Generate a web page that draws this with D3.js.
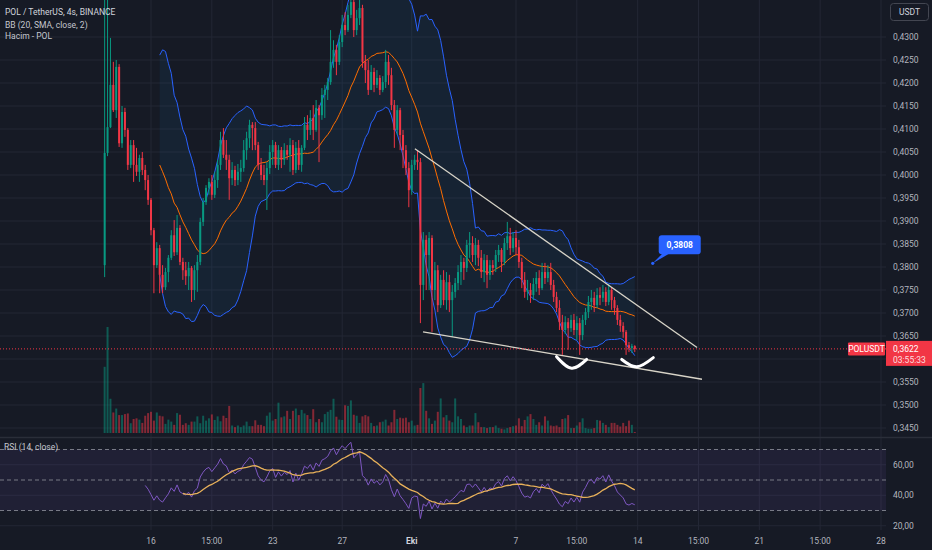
<!DOCTYPE html>
<html>
<head>
<meta charset="utf-8">
<script src="https://cdn.jsdelivr.net/npm/d3@7"></script>
<style>
html, body { margin: 0; padding: 0; background: #161a25; }
svg { display: block; font-family: Roboto, "Noto Sans", sans-serif; }
</style>
</head>
<body>
<svg id="chart" width="932" height="550"></svg>
<script>
// POL/USDT 4h bars, first bar 13 Sep 11:00
var startTime = Date.UTC(2024, 8, 13, 11);
var firstOpen = 0.3804;

var closes = [
  .4048,.4104,.4196,.4141,.4235,.4069,.4137,.4098,.4022,.4065,
  .4022,.4007,.4037,.4011,.3989,.3946,.3880,.3804,.3841,.3783,
  .3756,.3789,.3820,.3869,.3832,.3885,.3811,.3793,.3780,.3798,
  .3750,.3793,.3811,.3898,.3941,.3972,.3985,.3957,.3989,.4022,
  .4076,.4044,.4033,.3993,.4011,.3989,.4007,.4015,.4054,.4080,
  .4109,.4102,.4065,.4022,.4000,.3989,.4015,.4050,.4065,.4022,
  .4054,.4033,.4054,.4044,.4065,.4011,.4059,.4022,.4059,.4109,
  .4098,.4124,.4098,.4146,.4130,.4174,.4185,.4202,.4246,.4272,
  .4246,.4289,.4326,.4315,.4348,.4376,.4315,.4341,.4363,.4246,
  .4228,.4185,.4224,.4196,.4211,.4185,.4202,.4246,.4217,.4152,
  .4098,.4141,.4087,.4054,.4015,.3967,.4022,.4033,.4028,.3761,
  .3859,.3826,.3863,.3750,.3793,.3717,.3772,.3728,.3767,.3728,
  .3746,.3765,.3789,.3811,.3798,.3848,.3852,.3826,.3848,.3820,
  .3789,.3815,.3783,.3804,.3798,.3826,.3837,.3811,.3852,.3867,
  .3841,.3863,.3843,.3811,.3772,.3746,.3750,.3739,.3763,.3776,
  .3754,.3789,.3776,.3789,.3761,.3735,.3711,.3680,.3663,.3680,
  .3667,.3685,.3663,.3678,.3652,.3685,.3702,.3724,.3733,.3717,
  .3739,.3733,.3746,.3724,.3750,.3728,.3711,.3685,.3672,.3659,
  .3630,.3624,.3628,.3622
];
var highs = [
  .4402,.4402,.4298,.4246,.4250,.4241,.4150,.4146,.4102,.4076,
  .4076,.4059,.4044,.4050,.4022,.4000,.3950,.3885,.3854,.3848,
  .3804,.3798,.3826,.3880,.3902,.3913,.3891,.3820,.3811,.3811,
  .3802,.3804,.3826,.3907,.3950,.3978,.3993,.4000,.4007,.4033,
  .4094,.4102,.4076,.4044,.4028,.4020,.4024,.4033,.4076,.4094,
  .4120,.4115,.4115,.4072,.4037,.4022,.4028,.4065,.4076,.4072,
  .4065,.4061,.4069,.4065,.4080,.4076,.4072,.4076,.4065,.4126,
  .4130,.4141,.4152,.4163,.4152,.4189,.4196,.4211,.4315,.4293,
  .4283,.4304,.4348,.4354,.4370,.4402,.4391,.4359,.4391,.4370,
  .4261,.4250,.4239,.4233,.4228,.4217,.4215,.4272,.4261,.4233,
  .4163,.4152,.4146,.4098,.4065,.4028,.4033,.4044,.4054,.4037,
  .3876,.3869,.3876,.3869,.3811,.3804,.3783,.3793,.3789,.3783,
  .3761,.3776,.3804,.3826,.3820,.3859,.3876,.3867,.3863,.3859,
  .3837,.3828,.3826,.3815,.3815,.3837,.3848,.3841,.3863,.3898,
  .3885,.3876,.3880,.3859,.3820,.3789,.3772,.3765,.3776,.3789,
  .3793,.3809,.3809,.3804,.3809,.3772,.3746,.3728,.3696,.3693,
  .3689,.3696,.3698,.3693,.3689,.3696,.3711,.3737,.3750,.3746,
  .3754,.3756,.3761,.3756,.3763,.3756,.3735,.3717,.3696,.3680,
  .3663,.3637,.3633,.3630
];
var lows = [
  .3778,.4041,.4102,.4137,.4124,.4061,.4059,.4083,.4011,.4015,
  .3985,.3998,.3985,.4000,.3967,.3935,.3869,.3743,.3798,.3743,
  .3743,.3750,.3767,.3815,.3824,.3826,.3804,.3772,.3761,.3750,
  .3724,.3728,.3746,.3804,.3889,.3935,.3957,.3946,.3950,.3972,
  .4011,.4037,.4011,.3946,.3978,.3976,.3978,.3985,.4007,.4033,
  .4059,.4054,.4054,.4011,.3989,.3978,.3924,.4002,.4022,.4015,
  .4011,.4015,.4022,.4033,.4007,.4000,.4004,.4011,.4007,.4054,
  .4076,.4087,.4076,.4094,.4028,.4120,.4124,.4163,.4196,.4233,
  .4217,.4239,.4278,.4304,.4311,.4341,.4300,.4304,.4326,.4233,
  .4200,.4174,.4185,.4180,.4189,.4174,.4180,.4189,.4196,.4141,
  .4059,.4087,.4054,.4015,.4000,.3930,.3957,.4011,.4011,.3678,
  .3728,.3750,.3750,.3659,.3728,.3702,.3711,.3717,.3707,.3702,
  .3648,.3733,.3750,.3761,.3772,.3789,.3820,.3811,.3804,.3802,
  .3776,.3767,.3754,.3772,.3783,.3789,.3811,.3789,.3804,.3837,
  .3826,.3832,.3826,.3798,.3754,.3733,.3728,.3722,.3728,.3746,
  .3739,.3750,.3763,.3767,.3750,.3724,.3702,.3663,.3609,.3654,
  .3620,.3659,.3652,.3641,.3609,.3641,.3674,.3689,.3707,.3702,
  .3711,.3717,.3724,.3715,.3717,.3707,.3696,.3674,.3659,.3646,
  .3609,.3615,.3613,.3615
];
var volumes = [
  203,325,105,63,75,55,55,58,60,30,43,45,41,31,53,61,65,38,63,53,51,
  28,41,35,25,61,56,25,30,25,35,35,51,30,53,38,45,57,40,51,36,53,46,83,23,18,23,18,23,35,21,21,39,25,25,21,
  53,63,38,43,93,48,51,68,43,68,75,55,71,60,55,43,73,33,43,33,58,65,71,105,50,41,40,85,83,100,56,53,31,51,55,51,31,
  21,23,33,35,41,23,33,71,43,47,45,47,33,38,23,25,138,153,68,45,28,38,65,106,48,55,38,33,106,51,43,23,18,23,23,61,
  33,18,18,15,18,18,23,15,13,11,15,18,21,23,45,21,40,51,58,43,25,33,23,51,38,23,21,23,18,43,45,55,15,15,23,33,45,
  15,13,13,15,40,38,31,25,18,31,31,25,20,31,21,38,25,3
];

var priceTicks = [0.3450,0.3500,0.3550,0.3600,0.3650,0.3700,0.3750,0.3800,0.3850,0.3900,
                  0.3950,0.4000,0.4050,0.4100,0.4150,0.4200,0.4250,0.4300];
var rsiTicks = [20, 40, 60];
var rsiLevels = [70, 50, 30];
var timeTicks = ["2024-09-16T03:00Z","2024-09-19T15:00Z","2024-09-23T03:00Z","2024-09-27T03:00Z",
                 "2024-10-01T03:00Z","2024-10-07T03:00Z","2024-10-10T15:00Z","2024-10-14T03:00Z",
                 "2024-10-17T15:00Z","2024-10-21T03:00Z","2024-10-24T15:00Z","2024-10-28T03:00Z"];
var timeLabels = ["16","15:00","23","27","Eki","7","15:00","14","15:00","21","15:00","28"];

// drawings: [bar offset, price]
var trendUpper = [[107.1, 0.4057], [204.5, 0.3625]];
var trendLower = [[109.9, 0.3659], [206.2, 0.3556]];
var smileLeft = [[156.0, 0.3605], [161.2, 0.3580], [166.4, 0.3599]];
var smileRight = [[178.5, 0.3599], [183.7, 0.3583], [189.4, 0.3603]];
var calloutPoint = [189.2, 0.3808];

var W = 932, H = 550, plotRight = 886, mainBottom = 437, rsiTop = 438, rsiBottom = 530;
var upColor = "#089981", downColor = "#f23645";
var fmtPrice = function(v) { return d3.format(".4f")(v).replace(".", ","); };
var fmtRsi = function(v) { return d3.format(".2f")(v).replace(".", ","); };

function barTime(b) { return new Date(startTime + b * 4 * 3600e3); }

var bars = closes.map(function(c, i) {
    var o = i ? closes[i - 1] : firstOpen;
    return { t: barTime(i), o: o, c: c,
             h: Math.max(highs[i], o, c), l: Math.min(lows[i], o, c), v: volumes[i] };
});

// Bollinger 20, 2
bars.forEach(function(d, i) {
    if (i < 19) return;
    var w = closes.slice(i - 19, i + 1);
    var m = d3.mean(w);
    var sd = Math.sqrt(d3.mean(w, function(v) { return (v - m) * (v - m); }));
    d.basis = m; d.upper = m + 2 * sd; d.lower = m - 2 * sd;
});
var bb = bars.filter(function(d) { return d.basis !== undefined; });

// RSI 14 + SMA 14
var rsi = [], rsiMa = [], avgUp = 0, avgDn = 0;
closes.forEach(function(c, i) {
    if (i === 0) return;
    var ch = c - closes[i - 1], g = Math.max(ch, 0), l = Math.max(-ch, 0);
    if (i <= 14) { avgUp += g / 14; avgDn += l / 14; }
    else { avgUp = (avgUp * 13 + g) / 14; avgDn = (avgDn * 13 + l) / 14; }
    if (i >= 14) rsi.push({ t: bars[i].t, v: avgDn === 0 ? 100 : 100 - 100 / (1 + avgUp / avgDn) });
});
rsi.forEach(function(d, k) {
    if (k >= 13) rsiMa.push({ t: d.t, v: d3.mean(rsi.slice(k - 13, k + 1), function(e) { return e.v; }) });
});

var x = d3.scaleUtc()
    .domain([new Date("2024-09-16T03:00Z"), new Date("2024-10-28T03:00Z")])
    .range([151, 881]);
var y = d3.scaleLinear().domain([0.3450, 0.4300]).range([428, 37]);
var yVol = d3.scaleLinear().domain([0, d3.max(volumes)]).range([433, 327]);
var yRsi = d3.scaleLinear().domain([20, 60]).range([525.75, 464.75]);

var svg = d3.select("#chart");
svg.append("rect").attr("width", W).attr("height", H).attr("fill", "#161a25");

var defs = svg.append("defs");
defs.append("clipPath").attr("id", "clipMain").append("rect")
    .attr("x", 0).attr("y", 0).attr("width", plotRight).attr("height", mainBottom);
defs.append("clipPath").attr("id", "clipRsi").append("rect")
    .attr("x", 0).attr("y", rsiTop).attr("width", plotRight).attr("height", rsiBottom - rsiTop);

// grid
var grid = svg.append("g").attr("stroke", "#232735").attr("stroke-width", 1);
grid.selectAll("line.v").data(timeTicks).enter().append("line")
    .attr("x1", function(d) { return x(new Date(d)); }).attr("x2", function(d) { return x(new Date(d)); })
    .attr("y1", 0).attr("y2", rsiBottom);
grid.selectAll("line.h").data(priceTicks).enter().append("line")
    .attr("x1", 0).attr("x2", plotRight)
    .attr("y1", function(d) { return y(d); }).attr("y2", function(d) { return y(d); });
grid.selectAll("line.r").data(rsiTicks).enter().append("line")
    .attr("x1", 0).attr("x2", plotRight)
    .attr("y1", function(d) { return yRsi(d); }).attr("y2", function(d) { return yRsi(d); });

var main = svg.append("g").attr("clip-path", "url(#clipMain)");

// volume
main.append("g").selectAll("rect").data(bars).enter().append("rect")
    .attr("x", function(d) { return x(d.t) - 1; })
    .attr("width", 2)
    .attr("y", function(d) { return yVol(d.v); })
    .attr("height", function(d) { return yVol(0) - yVol(d.v); })
    .attr("fill", function(d) { return d.c >= d.o ? upColor : downColor; })
    .attr("fill-opacity", 0.5);

// bollinger
main.append("path").datum(bb)
    .attr("d", d3.area().x(function(d) { return x(d.t); })
        .y0(function(d) { return y(d.lower); }).y1(function(d) { return y(d.upper); }))
    .attr("fill", "rgba(33,150,243,0.07)");
[["upper", "#2962ff"], ["lower", "#2962ff"], ["basis", "#ff6d00"]].forEach(function(s) {
    main.append("path").datum(bb)
        .attr("d", d3.line().x(function(d) { return x(d.t); }).y(function(d) { return y(d[s[0]]); }))
        .attr("fill", "none").attr("stroke", s[1]).attr("stroke-width", 1);
});

// candles
var candle = main.append("g").selectAll("g").data(bars).enter().append("g")
    .attr("fill", function(d) { return d.c >= d.o ? upColor : downColor; })
    .attr("stroke", function(d) { return d.c >= d.o ? upColor : downColor; });
candle.append("line")
    .attr("x1", function(d) { return x(d.t); }).attr("x2", function(d) { return x(d.t); })
    .attr("y1", function(d) { return y(d.h); }).attr("y2", function(d) { return y(d.l); })
    .attr("stroke-width", 1);
candle.append("rect")
    .attr("x", function(d) { return x(d.t) - 1; })
    .attr("width", 2)
    .attr("y", function(d) { return y(Math.max(d.o, d.c)); })
    .attr("height", function(d) { return Math.max(1, Math.abs(y(d.o) - y(d.c))); })
    .attr("stroke", "none");

// drawings
var pt = d3.line().x(function(d) { return x(barTime(d[0])); }).y(function(d) { return y(d[1]); });
[trendUpper, trendLower].forEach(function(t) {
    main.append("path").attr("d", pt(t))
        .attr("fill", "none").attr("stroke", "#d8d4c8").attr("stroke-width", 1.3);
});
[smileLeft, smileRight].forEach(function(s) {
    main.append("path").attr("d", pt.curve(d3.curveNatural)(s))
        .attr("fill", "none").attr("stroke", "#ffffff").attr("stroke-width", 3)
        .attr("stroke-linecap", "round");
});
pt.curve(d3.curveLinear);

// last price line
var last = bars[bars.length - 1];
var ly = y(last.c);
main.append("line").attr("x1", 0).attr("x2", plotRight).attr("y1", ly).attr("y2", ly)
    .attr("stroke", downColor).attr("stroke-width", 1).attr("stroke-dasharray", "1,2");

// callout
var cx = x(barTime(calloutPoint[0])), cy = y(calloutPoint[1]);
var call = svg.append("g");
call.append("path")
    .attr("d", "M" + cx + "," + cy + "L" + (cx + 10) + "," + (cy - 10) + "L" + (cx + 17) + "," + (cy - 10) + "Z")
    .attr("fill", "#2962ff");
call.append("rect").attr("x", cx + 6).attr("y", cy - 28).attr("width", 42).attr("height", 19)
    .attr("rx", 3).attr("fill", "#2962ff");
call.append("circle").attr("cx", cx).attr("cy", cy).attr("r", 1.6).attr("fill", "#2962ff");
call.append("text").attr("x", cx + 27).attr("y", cy - 15.5).attr("text-anchor", "middle")
    .attr("font-size", 8.5).attr("font-weight", "bold").attr("fill", "#ffffff")
    .text(fmtPrice(calloutPoint[1]));

// pane separator
svg.append("line").attr("x1", 0).attr("x2", W).attr("y1", mainBottom + 0.5).attr("y2", mainBottom + 0.5)
    .attr("stroke", "#2a2e39").attr("stroke-width", 1.5);

// RSI pane
var rp = svg.append("g").attr("clip-path", "url(#clipRsi)");
rp.append("rect").attr("x", 0).attr("width", plotRight)
    .attr("y", yRsi(70)).attr("height", yRsi(30) - yRsi(70))
    .attr("fill", "rgba(126,87,194,0.1)");
rp.selectAll("line.lv").data(rsiLevels).enter().append("line")
    .attr("x1", 0).attr("x2", plotRight)
    .attr("y1", function(d) { return yRsi(d); }).attr("y2", function(d) { return yRsi(d); })
    .attr("stroke", "#787b86").attr("stroke-dasharray", "4,3").attr("stroke-width", 1);
rp.append("path").datum(rsi)
    .attr("d", d3.line().x(function(d) { return x(d.t); }).y(function(d) { return yRsi(d.v); }))
    .attr("fill", "none").attr("stroke", "#7e57c2").attr("stroke-width", 1);
rp.append("path").datum(rsiMa)
    .attr("d", d3.line().x(function(d) { return x(d.t); }).y(function(d) { return yRsi(d.v); }))
    .attr("fill", "none").attr("stroke", "#e8b15a").attr("stroke-width", 1.3);

// last price for label collision
var last = bars[bars.length - 1];
var ly = y(last.c);

// axes text (price labels hidden behind the last price badge)
var txt = svg.append("g").attr("font-size", 8.5).attr("fill", "#b2b5be");
txt.selectAll("text.p").data(priceTicks.filter(function(d) { return Math.abs(y(d) - ly - 4) > 14; }))
    .enter().append("text")
    .attr("x", 893).attr("y", function(d) { return y(d); }).attr("dy", "0.35em")
    .text(fmtPrice);
txt.selectAll("text.r").data(rsiTicks).enter().append("text")
    .attr("x", 893).attr("y", function(d) { return yRsi(d); }).attr("dy", "0.35em")
    .text(fmtRsi);
txt.selectAll("text.t").data(timeTicks).enter().append("text")
    .attr("x", function(d) { return x(new Date(d)); }).attr("y", 544)
    .attr("text-anchor", "middle")
    .attr("font-weight", function(d, i) { return timeLabels[i] === "Eki" ? "bold" : null; })
    .attr("fill", function(d, i) { return timeLabels[i] === "Eki" ? "#d1d4dc" : null; })
    .text(function(d, i) { return timeLabels[i]; });

// legend
var leg = svg.append("g").attr("font-size", 8.5).attr("fill", "#c4c7cf");
leg.append("text").attr("x", 5).attr("y", 15).attr("fill", "#d1d4dc").text("POL / TetherUS, 4s, BINANCE");
leg.append("text").attr("x", 5).attr("y", 27.5).text("BB (20, SMA, close, 2)");
leg.append("text").attr("x", 5).attr("y", 39).text("Hacim - POL");
leg.append("text").attr("x", 4).attr("y", 450).text("RSI (14, close)");

// currency box
svg.append("rect").attr("x", 890.5).attr("y", 3.5).attr("width", 38).attr("height", 17)
    .attr("rx", 3).attr("fill", "#161a25").attr("stroke", "#434651");
svg.append("text").attr("x", 909.5).attr("y", 15).attr("text-anchor", "middle")
    .attr("font-size", 8.5).attr("fill", "#d1d4dc").text("USDT");

// last price labels
svg.append("rect").attr("x", 848).attr("y", ly - 6.5).attr("width", 37).attr("height", 13)
    .attr("rx", 1).attr("fill", downColor);
svg.append("text").attr("x", 866.5).attr("y", ly).attr("dy", "0.35em").attr("text-anchor", "middle")
    .attr("font-size", 8.5).attr("fill", "#ffffff").text("POLUSDT");
svg.append("rect").attr("x", 886).attr("y", ly - 8).attr("width", 46).attr("height", 25)
    .attr("fill", downColor);
svg.append("text").attr("x", 893).attr("y", ly).attr("dy", "0.35em")
    .attr("font-size", 8.5).attr("fill", "#ffffff").text(fmtPrice(last.c));
svg.append("text").attr("x", 893).attr("y", ly + 11).attr("dy", "0.35em")
    .attr("font-size", 8.5).attr("fill", "#ffffff").attr("fill-opacity", 0.85).text("03:55:33");
</script>
</body>
</html>
